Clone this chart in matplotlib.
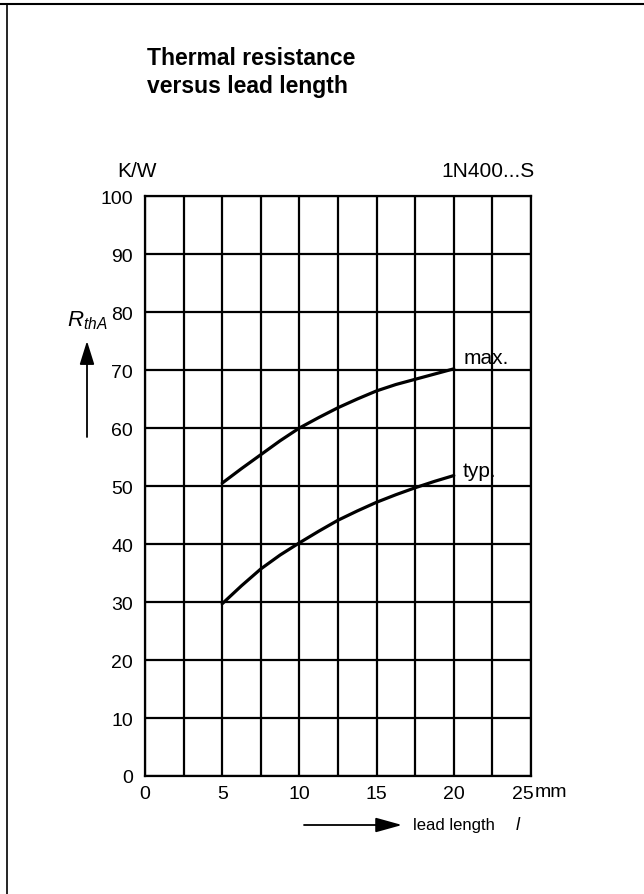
import matplotlib
matplotlib.use("Agg")
import matplotlib.pyplot as plt
import matplotlib.transforms as mtransforms
from matplotlib.lines import Line2D

# values
lead_mm = [5, 6.25, 7.5, 8.75, 10, 11.25, 12.5, 13.75, 15, 16.25, 17.5, 18.75, 20]
rth_max = [50.5, 53.0, 55.4, 57.8, 60.0, 61.8, 63.5, 65.0, 66.4, 67.5, 68.4, 69.3, 70.2]
rth_typ = [29.7, 32.8, 35.7, 38.1, 40.2, 42.2, 44.1, 45.7, 47.2, 48.5, 49.7, 50.8, 51.8]

x_ticks = [0, 5, 10, 15, 20, 25]
x_labels = ["0", "5", "10", "15", "20", "25"]
y_ticks = [0, 10, 20, 30, 40, 50, 60, 70, 80, 90, 100]

plt.rcParams['font.family'] = ['Liberation Sans', 'DejaVu Sans']
plt.rcParams['mathtext.fontset'] = 'custom'
plt.rcParams['mathtext.it'] = 'Liberation Sans:italic'
plt.rcParams['mathtext.rm'] = 'Liberation Sans'

W, H = 644, 895
fig = plt.figure(figsize=(W / 100, H / 100), dpi=100)

def fx(px):
	return px / W

def fy(py):
	return 1 - py / H

ax = fig.add_axes([fx(145), fy(777), fx(531) - fx(145), fy(197) - fy(777)])
ax.set_xlim(0, 25)
ax.set_ylim(0, 100)

ax.set_xticks(x_ticks)
ax.set_xticklabels(x_labels)
ax.set_xticks([2.5, 7.5, 12.5, 17.5, 22.5], minor=True)
ax.set_yticks(y_ticks)
ax.grid(True, which='both', color='black', linewidth=1.6)
ax.set_axisbelow(True)
for s in ax.spines.values():
	s.set_linewidth(1.6)
ax.tick_params(which='both', length=0)
ax.tick_params(axis='x', labelsize=14, pad=6.5)
ax.tick_params(axis='y', labelsize=14, pad=8.5)

# the "25" sits a little left of its grid line, "mm" follows it
last = ax.get_xticklabels()[-1]
last.set_transform(last.get_transform() + mtransforms.ScaledTranslation(-8 / 100, 0, fig.dpi_scale_trans))
ax.annotate("mm", xy=(25, 0), xytext=(3, -11.5), textcoords='offset points',
	fontsize=14, ha='left', va='center')

ax.plot(lead_mm, rth_max, color='black', linewidth=2.3, solid_capstyle='round')
ax.plot(lead_mm, rth_typ, color='black', linewidth=2.3, solid_capstyle='round')

ax.text(20.6, 72.1, "max.", fontsize=15, va='center', ha='left')
ax.text(20.6, 52.6, "typ.", fontsize=15, va='center', ha='left')

# titles and unit labels
fig.text(fx(147), fy(65), "Thermal resistance", fontsize=16.5, fontweight='bold', va='baseline')
fig.text(fx(147), fy(93), "versus lead length", fontsize=16.5, fontweight='bold', va='baseline')
fig.text(fx(117), fy(177), "K/W", fontsize=15, va='baseline')
fig.text(fx(535), fy(177), "1N400...S", fontsize=15, va='baseline', ha='right')

fig.text(fx(87), fy(321), r"$R_{thA}$", fontsize=16, ha='center', va='center')
ax.annotate("", xy=(87, H - 342), xytext=(87, H - 438), xycoords='figure pixels',
	arrowprops=dict(arrowstyle='-|>,head_length=0.8,head_width=0.25', color='black',
		lw=1.3, mutation_scale=18, shrinkA=0, shrinkB=0))

ax.annotate("", xy=(402, H - 826), xytext=(304, H - 826), xycoords='figure pixels',
	arrowprops=dict(arrowstyle='-|>,head_length=0.9,head_width=0.25', color='black',
		lw=1.3, mutation_scale=18, shrinkA=0, shrinkB=0))
fig.text(fx(413), fy(826), "lead length", fontsize=12, va='center')
fig.text(fx(518), fy(826), "$l$", fontsize=13, va='center', ha='center')

# page frame, top and left edges
fig.add_artist(Line2D([0, 1], [fy(5), fy(5)], color='black', linewidth=1.5))
fig.add_artist(Line2D([fx(6.5), fx(6.5)], [fy(5), 0], color='black', linewidth=1.2))

fig.savefig("out.png", dpi=100)
